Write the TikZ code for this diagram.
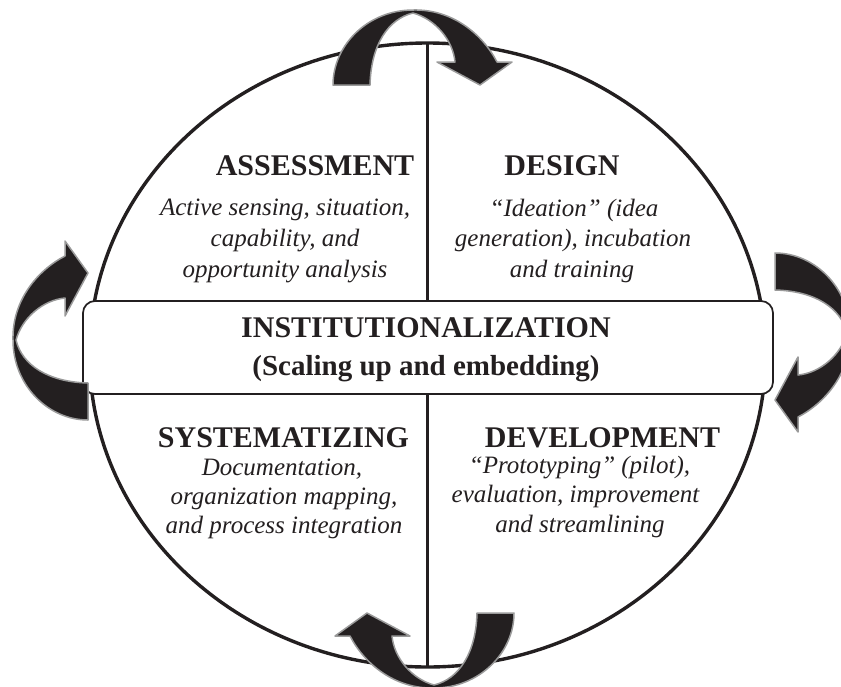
\documentclass[tikz,border=0pt]{standalone}
\usepackage{fontspec}
\setmainfont{Liberation Serif}
\definecolor{ink}{HTML}{231F20}
\definecolor{rim}{HTML}{9A9A9A}
\begin{document}
\begin{tikzpicture}[x=1pt,y=1pt,
  titletext/.style={anchor=base, text=ink, inner sep=0pt, font=\fontsize{30}{36}\selectfont\bfseries},
  bodytext/.style={anchor=base, text=ink, inner sep=0pt, font=\fontsize{25}{30}\selectfont\itshape},
  subtext/.style={anchor=base, text=ink, inner sep=0pt, font=\fontsize{29}{34}\selectfont\bfseries},
  ring/.style={draw=ink, line width=3.4pt},
  divider/.style={draw=ink, line width=3.6pt},
  band/.style={draw=ink, fill=white, line width=1.7pt, rounded corners=12pt},
  blockarrow/.style={fill=ink, draw=rim, line width=1.5pt, line join=round},
  uarrow/.pic={\path[blockarrow] (-80,0) .. controls (-80,40) and (-45,75) .. (0,75)
      .. controls (40,76) and (70,50) .. (84,23) -- (99,23) -- (67,0) -- (24,23) -- (42,23)
      .. controls (40,45) and (22,66) .. (0,72)
      .. controls (-25,66) and (-42,40) .. (-43,0) -- cycle;}
]
\useasboundingbox (0,0) rectangle (841,-686);
\clip (0,0) rectangle (841,-686);
\fill[white] (0,0) rectangle (841,-686);
% ring and divider
\draw[ring] (427.5,-355) ellipse [x radius=338, y radius=312];
\coordinate (topp) at (427.5,-43);
\coordinate (botp) at (427.5,-667);
\draw[divider] (topp) -- (botp);
\node[band, minimum width=690, minimum height=93] (bandbox) at (428,-347.5) {};
% quadrant texts
\node[titletext] (assess) at (315,-175) {ASSESSMENT};
\node[bodytext] (a1) at (285,-215) {Active sensing, situation,};
\node[bodytext] (a2) at (285,-246) {capability, and};
\node[bodytext] (a3) at (285,-277) {opportunity analysis};
\node[titletext] (design) at (562,-175) {DESIGN};
\node[bodytext] (d1) at (574,-216) {“Ideation” (idea};
\node[bodytext] (d2) at (573,-246) {generation), incubation};
\node[bodytext] (d3) at (572,-277) {and training};
\node[titletext] (inst) at (426,-337) {INSTITUTIONALIZATION};
\node[subtext] (scal) at (426,-375) {(Scaling up and embedding)};
\node[titletext] (syst) at (283.5,-447) {SYSTEMATIZING};
\node[bodytext] (s1) at (282,-475) {Documentation,};
\node[bodytext] (s2) at (284,-504) {organization mapping,};
\node[bodytext] (s3) at (284,-533) {and process integration};
\node[titletext] (devel) at (602.5,-447) {DEVELOPMENT};
\node[bodytext] (v1) at (579.5,-473) {“Prototyping” (pilot),};
\node[bodytext] (v2) at (575.5,-502) {evaluation, improvement};
\node[bodytext] (v3) at (580,-532) {and streamlining};
% cycle arrows
\pic (arrtop) at (413,-85) {uarrow};
\pic[rotate=-90] (arrright) at (775,-333) {uarrow};
\pic[rotate=180] (arrbottom) at (434,-613) {uarrow};
\pic[rotate=90] (arrleft) at (88,-340) {uarrow};
\end{tikzpicture}
\end{document}
